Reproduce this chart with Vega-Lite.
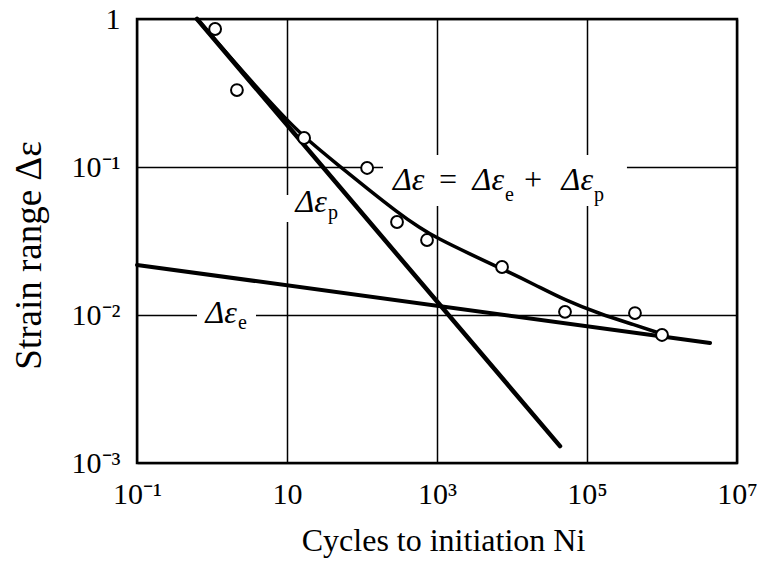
{
  "$schema": "https://vega.github.io/schema/vega-lite/v6.json",
  "width": 600,
  "height": 444,
  "autosize": {"type": "none"},
  "padding": {"left": 137, "top": 19, "right": 20, "bottom": 98},
  "background": "white",
  "config": {
    "view": {"stroke": "black", "strokeWidth": 2.5},
    "axis": {
      "domain": false, "ticks": false, "grid": true,
      "gridColor": "black", "gridWidth": 1.5, "gridOpacity": 1,
      "labelFont": "Liberation Sans Narrow", "labelFontSize": 30, "labelColor": "black",
      "labelFlush": false, "labelOverlap": false,
      "titleFont": "Liberation Serif", "titleFontWeight": "normal", "titleColor": "black"
    }
  },
  "datasets": {
    "gaps": [
      {"N": 190.5, "N2": 341000, "S": 0.1205, "S2": 0.0545},
      {"N": 8.07, "N2": 11.7, "S": 0.0647, "S2": 0.0425},
      {"N": 0.631, "N2": 3.86, "S": 0.0115, "S2": 0.00843}
    ],
    "elastic": [
      {"N": 0.1, "S": 0.0218},
      {"N": 4370000, "S": 0.00647}
    ],
    "plastic": [
      {"N": 0.631, "S": 1},
      {"N": 43650, "S": 0.0013}
    ],
    "total": [
      {"N": 0.631, "S": 1},
      {"N": 3.21, "S": 0.387},
      {"N": 9.4, "S": 0.214},
      {"N": 16.9, "S": 0.1595},
      {"N": 47.9, "S": 0.1032},
      {"N": 120, "S": 0.071},
      {"N": 293, "S": 0.0497},
      {"N": 593, "S": 0.0387},
      {"N": 1000, "S": 0.0331},
      {"N": 2754, "S": 0.0258},
      {"N": 7360, "S": 0.0205},
      {"N": 20270, "S": 0.016},
      {"N": 50900, "S": 0.0126},
      {"N": 149000, "S": 0.01016},
      {"N": 436000, "S": 0.00856},
      {"N": 1000000, "S": 0.00744}
    ],
    "tests": [
      {"N": 1.1, "S": 0.856},
      {"N": 2.15, "S": 0.331},
      {"N": 16.9, "S": 0.157},
      {"N": 117, "S": 0.0985},
      {"N": 293, "S": 0.0425},
      {"N": 736, "S": 0.0321},
      {"N": 7360, "S": 0.0211},
      {"N": 50900, "S": 0.0105},
      {"N": 436000, "S": 0.0103},
      {"N": 1000000, "S": 0.00733}
    ],
    "leftText": [
      {"N": 259, "S": 0.07, "label": "Δε"},
      {"N": 1000, "S": 0.07, "label": "="},
      {"N": 13600, "S": 0.07, "label": "+"}
    ],
    "rightText": [
      {"N": 7820, "S": 0.07, "label": "Δε"},
      {"N": 120200, "S": 0.07, "label": "Δε"},
      {"N": 34.1, "S": 0.0497, "label": "Δε"},
      {"N": 2.15, "S": 0.00883, "label": "Δε"}
    ],
    "subText": [
      {"N": 8070, "S": 0.0589, "label": "e"},
      {"N": 124000, "S": 0.0589, "label": "p"},
      {"N": 35.2, "S": 0.0445, "label": "p"},
      {"N": 2.22, "S": 0.00804, "label": "e"}
    ]
  },
  "encoding": {
    "x": {
      "field": "N", "type": "quantitative",
      "scale": {"type": "log", "domain": [0.1, 10000000], "nice": false},
      "axis": {
        "values": [0.1, 10, 1000, 100000, 10000000],
        "labelExpr": "datum.value < 1 ? '10⁻¹' : datum.value < 100 ? '10' : datum.value < 10000 ? '10³' : datum.value < 1000000 ? '10⁵' : '10⁷'",
        "labelPadding": 16,
        "title": "Cycles to initiation Ni",
        "titleFontSize": 32,
        "titleX": 306, "titleY": 87,
        "titleAlign": "center", "titleBaseline": "alphabetic"
      }
    },
    "y": {
      "field": "S", "type": "quantitative",
      "scale": {"type": "log", "domain": [0.001, 1], "nice": false},
      "axis": {
        "values": [0.001, 0.01, 0.1, 1],
        "labelExpr": "datum.value < 0.005 ? '10⁻³' : datum.value < 0.05 ? '10⁻²' : datum.value < 0.5 ? '10⁻¹' : '1'",
        "labelPadding": 17,
        "title": "Strain range  Δε",
        "titleFontSize": 37,
        "titleAngle": 270,
        "titleX": -108, "titleY": 236,
        "titleAlign": "center", "titleBaseline": "middle"
      }
    }
  },
  "layer": [
    {
      "data": {"name": "gaps"},
      "mark": {"type": "rect", "fill": "white", "stroke": null},
      "encoding": {"x2": {"field": "N2"}, "y2": {"field": "S2"}}
    },
    {
      "data": {"name": "elastic"},
      "mark": {"type": "line", "color": "black", "strokeWidth": 4, "strokeCap": "round"}
    },
    {
      "data": {"name": "plastic"},
      "mark": {"type": "line", "color": "black", "strokeWidth": 4.5, "strokeCap": "round"}
    },
    {
      "data": {"name": "total"},
      "mark": {"type": "line", "color": "black", "strokeWidth": 3.5, "interpolate": "basis", "strokeCap": "round"}
    },
    {
      "data": {"name": "tests"},
      "mark": {"type": "point", "shape": "circle", "filled": false, "fill": "white", "fillOpacity": 1, "stroke": "black", "strokeWidth": 2, "size": 140, "opacity": 1}
    },
    {
      "data": {"name": "leftText"},
      "mark": {"type": "text", "font": "Liberation Serif", "fontStyle": "italic", "fontSize": 32, "align": "left", "baseline": "alphabetic", "color": "black"},
      "encoding": {"text": {"field": "label"}}
    },
    {
      "data": {"name": "rightText"},
      "mark": {"type": "text", "font": "Liberation Serif", "fontStyle": "italic", "fontSize": 32, "align": "right", "baseline": "alphabetic", "color": "black"},
      "encoding": {"text": {"field": "label"}}
    },
    {
      "data": {"name": "subText"},
      "mark": {"type": "text", "font": "Liberation Serif", "fontSize": 20, "align": "left", "baseline": "alphabetic", "color": "black"},
      "encoding": {"text": {"field": "label"}}
    }
  ]
}
